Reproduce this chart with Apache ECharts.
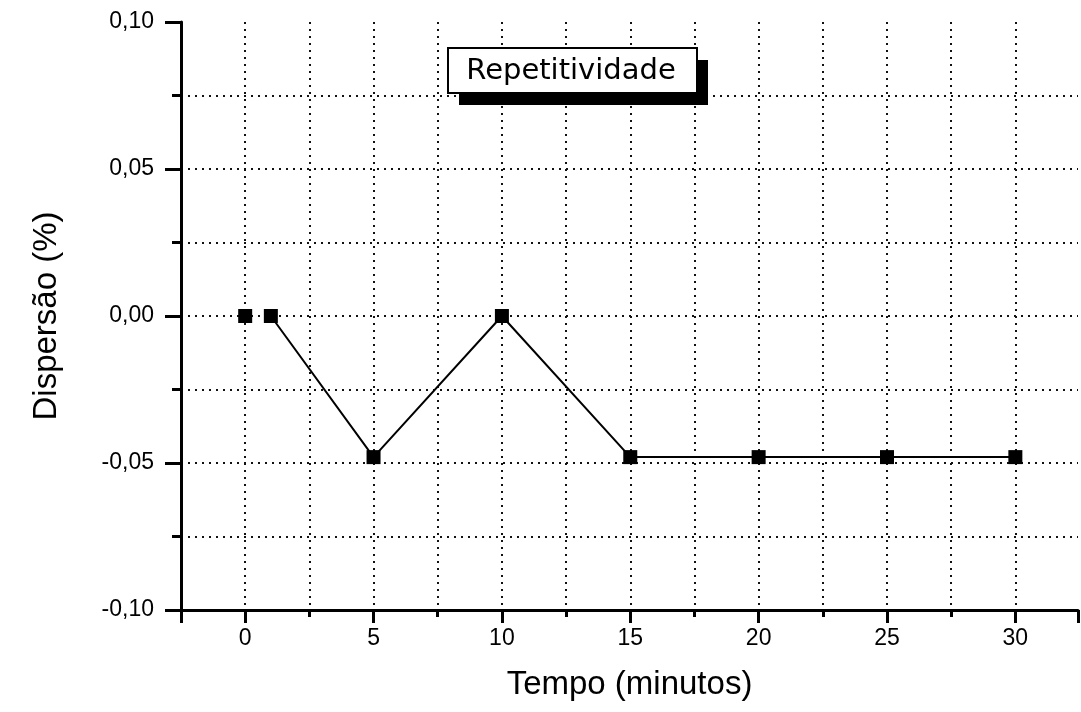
<!DOCTYPE html>
<html>
<head>
<meta charset="utf-8">
<script src="https://cdn.jsdelivr.net/npm/echarts@6/dist/echarts.min.js"></script>
<style>
  html, body { margin: 0; padding: 0; background: #fff; }
  #chart { width: 1081px; height: 712px; }
</style>
</head>
<body>
<div id="chart"></div>
<script>
// dados
var tempo = [0, 1, 5, 10, 15, 20, 25, 30];
var dispersao = [0, 0, -0.048, 0, -0.048, -0.048, -0.048, -0.048];
var legenda = 'Repetitividade';
var nomeX = 'Tempo (minutos)';
var nomeY = 'Dispersão (%)';

var pontos = tempo.map(function (t, i) { return [t, dispersao[i]]; });
// o segmento entre 0 e 1 nao aparece no original
var linha = pontos.slice(1);

var fonte = 'Liberation Sans, Arial, sans-serif';
var grade = { color: '#111', width: 2, type: [2, 5] };

function rotuloY(v) {
    var r = Math.round(v * 100);
    if (r % 5 !== 0) return '';
    var n = r / 100;
    if (n === 0) n = 0;
    return n.toFixed(2).replace('.', ',');
}
function rotuloX(v) {
    var r = Math.round(v * 100) / 100;
    if (r < 0 || Math.abs(r % 5) > 1e-9) return '';
    return String(r);
}

var chart = echarts.init(document.getElementById('chart'));
var option = {
    backgroundColor: '#fff',
    animation: false,
    grid: { left: 181, right: 0, top: 22, bottom: 102 },
    xAxis: [{
        type: 'value',
        min: -2.5,
        max: 32.44,
        interval: 2.5,
        name: nomeX,
        nameLocation: 'middle',
        nameGap: 58,
        nameTextStyle: { fontFamily: fonte, fontSize: 33, color: '#000' },
        axisLine: { onZero: false, lineStyle: { color: '#000', width: 3 } },
        axisTick: { length: 7, lineStyle: { color: '#000', width: 3 } },
        axisLabel: { formatter: rotuloX, margin: 17, fontFamily: fonte, fontSize: 23, color: '#000' },
        splitLine: { show: true, showMinLine: false, showMaxLine: false, lineStyle: grade }
    }, {
        type: 'value',
        min: -2.5,
        max: 32.44,
        splitNumber: 7,
        position: 'bottom',
        axisLine: { show: false, onZero: false },
        axisTick: { length: 13, lineStyle: { color: '#000', width: 3 } },
        axisLabel: { show: false },
        splitLine: { show: false }
    }],
    yAxis: [{
        type: 'value',
        min: -0.1,
        max: 0.1,
        interval: 0.025,
        name: nomeY,
        nameLocation: 'middle',
        nameGap: 118,
        nameTextStyle: { fontFamily: fonte, fontSize: 33, color: '#000' },
        axisLine: { show: true, onZero: false, lineStyle: { color: '#000', width: 3 } },
        axisTick: { show: true, length: 9, lineStyle: { color: '#000', width: 3 } },
        axisLabel: { formatter: rotuloY, margin: 27, fontFamily: fonte, fontSize: 23, color: '#000' },
        splitLine: { show: true, showMaxLine: false, showMinLine: false, lineStyle: grade }
    }, {
        type: 'value',
        min: -0.1,
        max: 0.1,
        interval: 0.05,
        position: 'left',
        axisLine: { show: false, onZero: false },
        axisTick: { show: true, length: 16, lineStyle: { color: '#000', width: 3 } },
        axisLabel: { show: false },
        splitLine: { show: false }
    }],
    graphic: [{
        type: 'rect',
        shape: { x: 459, y: 60, width: 249, height: 45 },
        style: { fill: '#000' },
        z: 10
    }, {
        type: 'rect',
        shape: { x: 448, y: 48, width: 249, height: 45 },
        style: { fill: '#fff', stroke: '#000', lineWidth: 2 },
        z: 11
    }, {
        type: 'text',
        x: 571,
        y: 71,
        style: {
            text: legenda,
            fill: '#000',
            font: '29px DejaVu Sans, sans-serif',
            textAlign: 'center',
            textVerticalAlign: 'middle'
        },
        z: 12
    }],
    series: [{
        type: 'line',
        data: linha,
        xAxisIndex: 0,
        yAxisIndex: 0,
        showSymbol: false,
        lineStyle: { color: '#000', width: 2 },
        z: 3
    }, {
        type: 'scatter',
        name: legenda,
        data: pontos,
        xAxisIndex: 0,
        yAxisIndex: 0,
        symbol: 'rect',
        symbolSize: 14,
        itemStyle: { color: '#000', opacity: 1 },
        z: 4
    }]
};
chart.setOption(option);
</script>
</body>
</html>
